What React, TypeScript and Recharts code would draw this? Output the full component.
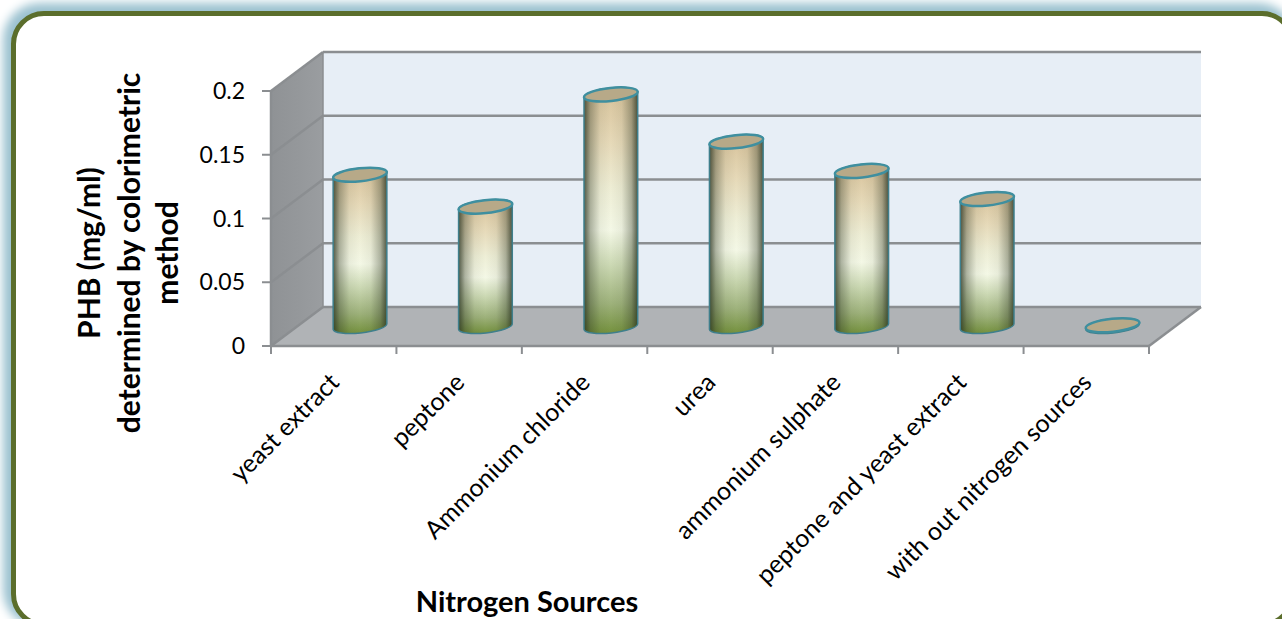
import { BarChart, Bar, XAxis, YAxis, ReferenceLine } from 'recharts';

const categories = [
  'yeast extract',
  'peptone',
  'Ammonium chloride',
  'urea',
  'ammonium sulphate',
  'peptone and yeast extract',
  'with out nitrogen sources',
];
const phbValues = [0.119, 0.094, 0.182, 0.145, 0.122, 0.1, 0.001];
const yTicks = [0, 0.05, 0.1, 0.15, 0.2];

const data = categories.map((name, i) => ({ name, phb: phbValues[i] }));

const WIDTH = 1282;
const HEIGHT = 619;
const LEFT = 271;
const RIGHT = 1149;
const TOP = 91;
const BOTTOM = 346;
const DX = 52;
const DY = 39;
const BAND = (RIGHT - LEFT) / categories.length;
const FONT = 'Lato, "Open Sans", sans-serif';
const GREY = '#8b8e91';

function Walls() {
  return (
    <g>
      <defs>
        <linearGradient id="cylFill" x1="0" y1="0" x2="0" y2="1">
          <stop offset="0" stopColor="#d6c199" />
          <stop offset="0.22" stopColor="#e6d9b8" />
          <stop offset="0.42" stopColor="#eeeed6" />
          <stop offset="0.58" stopColor="#f4f8e6" />
          <stop offset="0.72" stopColor="#ccd9b4" />
          <stop offset="0.88" stopColor="#9db17a" />
          <stop offset="1" stopColor="#74913d" />
        </linearGradient>
        <linearGradient id="cylEdge" x1="0" y1="0" x2="1" y2="0">
          <stop offset="0" stopColor="#2a3320" stopOpacity="0.8" />
          <stop offset="0.12" stopColor="#2a3320" stopOpacity="0.35" />
          <stop offset="0.3" stopColor="#2a3320" stopOpacity="0.06" />
          <stop offset="0.5" stopColor="#2a3320" stopOpacity="0" />
          <stop offset="0.7" stopColor="#2a3320" stopOpacity="0.06" />
          <stop offset="0.88" stopColor="#2a3320" stopOpacity="0.35" />
          <stop offset="1" stopColor="#2a3320" stopOpacity="0.8" />
        </linearGradient>
        <linearGradient id="sideWall" x1="0" y1="0" x2="1" y2="0">
          <stop offset="0" stopColor="#8f9295" />
          <stop offset="1" stopColor="#9a9da0" />
        </linearGradient>
      </defs>
      <rect x={LEFT + DX} y={TOP - DY} width={RIGHT - LEFT} height={BOTTOM - TOP} fill="#e7eef6" />
      <polygon
        points={`${LEFT},${TOP} ${LEFT + DX},${TOP - DY} ${LEFT + DX},${BOTTOM - DY} ${LEFT},${BOTTOM}`}
        fill="url(#sideWall)"
      />
      <polygon
        points={`${LEFT},${BOTTOM} ${LEFT + DX},${BOTTOM - DY} ${RIGHT + DX},${BOTTOM - DY} ${RIGHT},${BOTTOM}`}
        fill="#b0b3b6"
      />
      <line x1={RIGHT} y1={BOTTOM} x2={RIGHT + DX} y2={BOTTOM - DY} stroke={GREY} strokeWidth={2.5} />
      <line x1={LEFT + DX} y1={TOP - DY} x2={LEFT + DX} y2={BOTTOM - DY} stroke={GREY} strokeWidth={1.5} />
    </g>
  );
}

// wall gridline: slanted on the side wall, straight across the back wall
function GridShape(props: any) {
  const y = props.y1 ?? props.y;
  const x1 = props.x1 ?? LEFT;
  const x2 = props.x2 ?? RIGHT;
  return (
    <g>
      <line x1={x1} y1={y} x2={x1 + DX} y2={y - DY} stroke={GREY} strokeWidth={2.5} />
      <line x1={x1 + DX} y1={y - DY} x2={x2 + DX} y2={y - DY} stroke={GREY} strokeWidth={2.5} />
    </g>
  );
}

function Cylinder(props: any) {
  const { x, y, width, height } = props;
  const rx = width / 2;
  const ry = 6.5;
  const rot = (6 * Math.PI) / 180;
  const cx = x + rx + DX / 2;
  const top = y - DY / 2;
  const bottom = y + height - DY / 2;
  const ux = rx * Math.cos(rot);
  const uy = -rx * Math.sin(rot);
  const vx = ry * Math.sin(rot);
  const vy = ry * Math.cos(rot);
  const k = 0.5523;
  // half ellipse from -u to +u; sign picks the lower (1) or upper (-1) side
  const half = (cy: number, sign: number, dir: number) => {
    const px = (a: number, b: number) => `${cx + dir * a * ux + sign * b * vx},${cy + dir * a * uy + sign * b * vy}`;
    return `C${px(-1, k)} ${px(-k, 1)} ${px(0, 1)} C${px(k, 1)} ${px(1, k)} ${px(1, 0)}`;
  };
  const body = `M${cx - ux},${top - uy} L${cx - ux},${bottom - uy} ${half(bottom, 1, 1)} L${cx + ux},${top + uy} ${half(top, -1, -1)} Z`;
  return (
    <g>
      <path d={body} fill="url(#cylFill)" />
      <path d={body} fill="url(#cylEdge)" stroke="#3f7f8c" strokeWidth={1.5} />
      <ellipse
        cx={cx}
        cy={top}
        rx={rx}
        ry={ry}
        transform={`rotate(-6 ${cx} ${top})`}
        fill="#b7a988"
        stroke="#3f8f9f"
        strokeWidth={2.5}
      />
    </g>
  );
}

function CategoryTick(props: any) {
  const { x, y, payload, index } = props;
  const left = x - BAND / 2;
  return (
    <g>
      <line x1={left} y1={BOTTOM} x2={left} y2={BOTTOM + 8} stroke={GREY} strokeWidth={2} />
      {index === categories.length - 1 && (
        <line x1={left + BAND} y1={BOTTOM} x2={left + BAND} y2={BOTTOM + 8} stroke={GREY} strokeWidth={2} />
      )}
      <text
        x={x + 7}
        y={y + 30}
        textAnchor="end"
        fontSize={25}
        fontFamily={FONT}
        fill="#000"
        transform={`rotate(-45 ${x + 7} ${y + 30})`}
      >
        {payload.value}
      </text>
    </g>
  );
}

const yTitle = ['PHB (mg/ml)', 'determined by colorimetric', 'method'];
const yTitleX = [100, 140, 178];

export default function App() {
  return (
    <div
      style={{
        position: 'absolute',
        left: 0,
        top: 0,
        width: WIDTH,
        height: HEIGHT,
        overflow: 'hidden',
        background: '#fff',
      }}
    >
      <div
        style={{
          position: 'absolute',
          left: 11,
          top: 11,
          width: 1274,
          height: 606,
          border: '5px solid #5b6e2c',
          borderRadius: 33,
          boxShadow: '-4px -4px 10px 4px #9cc2d0',
          background: '#fff',
        }}
      />
      <div style={{ position: 'absolute', left: 0, top: 0 }}>
        <BarChart
          width={WIDTH}
          height={HEIGHT}
          data={data}
          barSize={54}
          margin={{ left: 0, right: WIDTH - RIGHT, top: TOP, bottom: 0 }}
        >
          <Walls />
          {yTicks.map((t) => (
            <ReferenceLine key={t} y={t} shape={<GridShape />} />
          ))}
          <XAxis
            dataKey="name"
            interval={0}
            axisLine={{ stroke: GREY, strokeWidth: 2.5 }}
            tickLine={false}
            tick={<CategoryTick />}
            height={HEIGHT - BOTTOM}
          />
          <YAxis
            domain={[0, 0.2]}
            ticks={yTicks}
            width={LEFT}
            axisLine={{ stroke: GREY, strokeWidth: 2.5 }}
            tickLine={{ stroke: GREY, strokeWidth: 2 }}
            tickSize={9}
            tickMargin={17}
            tick={{ fontSize: 23, fontFamily: FONT, fill: '#000' }}
          />
          <Bar dataKey="phb" isAnimationActive={false} shape={<Cylinder />} zIndex={900} />
          {yTitle.map((line, i) => (
            <text
              key={line}
              x={yTitleX[i]}
              y={253}
              textAnchor="middle"
              fontSize={30}
              fontWeight={700}
              fontFamily={FONT}
              fill="#000"
              transform={`rotate(-90 ${yTitleX[i]} 253)`}
            >
              {line}
            </text>
          ))}
          <text x={527} y={612} textAnchor="middle" fontSize={29} fontWeight={700} fontFamily={FONT} fill="#000">
            Nitrogen Sources
          </text>
        </BarChart>
      </div>
    </div>
  );
}
